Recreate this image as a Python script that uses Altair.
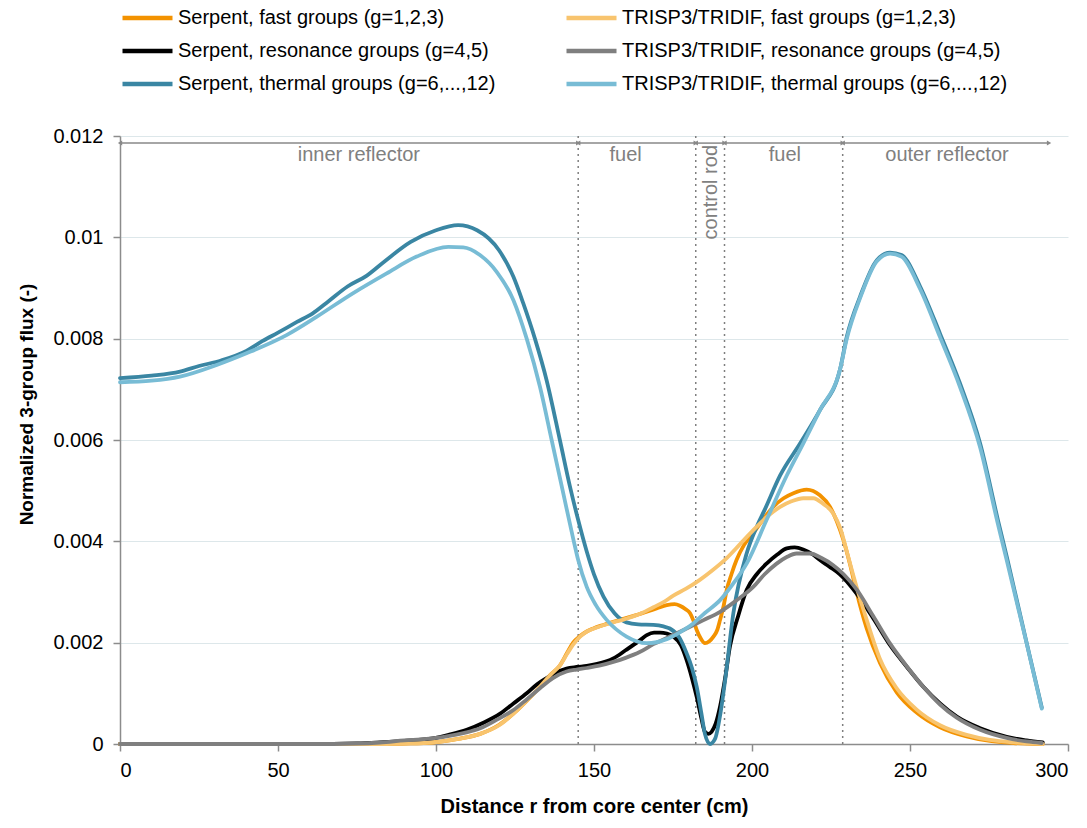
import altair as alt
import pandas as pd

# ---------------- data ----------------
SERIES = [
    "Serpent, fast groups (g=1,2,3)",
    "Serpent, resonance groups (g=4,5)",
    "Serpent, thermal groups (g=6,...,12)",
    "TRISP3/TRIDIF, fast groups (g=1,2,3)",
    "TRISP3/TRIDIF, resonance groups (g=4,5)",
    "TRISP3/TRIDIF, thermal groups (g=6,...,12)",
]
COLORS = ["#F39200", "#000000", "#3A86A3", "#F8C46E", "#7F7F7F", "#78BCD5"]

r_sf = [0, 80, 90, 99, 107, 114, 120, 124.5, 129, 132.9, 136, 139.2, 141.5, 143.4, 145.6, 147.7, 149.8, 153,
        158.2, 162, 166.7, 170, 173, 175.5, 177.2, 179, 180.4, 181.5, 182.5, 183.8, 185.1, 186.5, 187.8, 189,
        189.9, 191, 192, 193.5, 195.1, 197.5, 200.4, 203.5, 206.7, 210, 213.1, 217.3, 221.5, 224.7, 226.8,
        228.9, 231, 233.1, 236.3, 240.5, 245.8, 252.1, 259.5, 267.9, 275.3, 282.7, 292]
v_sf = [0, 0, 0.00001, 0.00003, 0.0001, 0.0002, 0.00038, 0.0006, 0.00087, 0.00113, 0.00135, 0.00155, 0.0018,
        0.002, 0.00213, 0.00222, 0.00228, 0.00235, 0.00245, 0.00252, 0.00261, 0.00268, 0.00274, 0.00276,
        0.00273, 0.00266, 0.00258, 0.00243, 0.00225, 0.00208, 0.00199, 0.00203, 0.00212, 0.00225, 0.00245,
        0.00272, 0.00304, 0.00335, 0.00363, 0.00393, 0.00416, 0.00443, 0.00468, 0.00485, 0.00495, 0.00502,
        0.00491, 0.00468, 0.0044, 0.00403, 0.00355, 0.003, 0.00228, 0.0016, 0.00102, 0.00062, 0.00033,
        0.00015, 0.00006, 0.00002, 0]

r_tf = [0, 80, 90, 99, 107, 114, 120, 124.5, 129, 132.9, 136, 139.2, 141.5, 143.4, 145.6, 147.7, 150, 156.1,
        160, 164.6, 168.8, 172, 175.1, 179, 183.5, 187.5, 192, 196, 200.4, 204.5, 208.9, 212.5, 216.2, 219.4,
        222.5, 225.7, 228, 230, 233.1, 236.3, 240.5, 245.8, 252.1, 259.5, 267.9, 275.3, 282.7, 292]
v_tf = [0, 0, 0.00001, 0.00003, 0.0001, 0.0002, 0.00037, 0.0006, 0.00087, 0.00113, 0.00135, 0.00155, 0.00178,
        0.00196, 0.00212, 0.00222, 0.00228, 0.0024, 0.00247, 0.00257, 0.0027, 0.0028, 0.00293, 0.00306,
        0.00324, 0.00343, 0.00367, 0.00393, 0.00422, 0.00447, 0.00468, 0.00479, 0.00485, 0.00485, 0.00474,
        0.00455, 0.00425, 0.0038, 0.0031, 0.00245, 0.00168, 0.0011, 0.00068, 0.00037, 0.00018, 0.00008,
        0.00003, 0]

r_sr = [0, 60, 75, 82.3, 90, 99, 104, 109.7, 115, 120.3, 124.5, 128.7, 132, 135, 138, 141.3, 144.5, 147.7, 151,
        156.1, 160, 164.6, 166.7, 169, 170.9, 173, 175.1, 177.5, 179.3, 181, 182.5, 184, 185.1, 186.2, 187.2,
        188.5, 189.9, 191.5, 193, 195.5, 198.3, 201.5, 204.6, 208, 211, 213.5, 216.2, 219, 221.5, 224.5,
        227.8, 233.1, 238.4, 243.7, 248.9, 254.2, 259.5, 264.8, 272.2, 280.6, 286.9, 292]
v_sr = [0, 0, 0.00001, 0.00003, 0.00006, 0.00011, 0.00018, 0.00028, 0.00042, 0.0006, 0.0008, 0.001, 0.00118,
        0.0013, 0.00141, 0.00149, 0.00152, 0.00154, 0.00158, 0.00169, 0.00185, 0.00205, 0.00215, 0.0022,
        0.0022, 0.00218, 0.00212, 0.00195, 0.00166, 0.0013, 0.00093, 0.0005, 0.00024, 0.0002, 0.00024,
        0.0004, 0.00074, 0.0013, 0.00192, 0.0025, 0.00304, 0.00335, 0.00356, 0.00374, 0.00386, 0.00388,
        0.00384, 0.00375, 0.00363, 0.0035, 0.00335, 0.00297, 0.00248, 0.00195, 0.00153, 0.00113, 0.0008,
        0.00054, 0.00031, 0.00014, 0.00007, 0.00003]

r_tr = [0, 60, 75, 82.3, 90, 97, 103.4, 109, 114, 119, 124.5, 128.7, 132.9, 137, 141.3, 144.5, 147.7, 152,
        156.1, 160, 164.6, 168.8, 174, 179.3, 184.5, 189.9, 195, 200.4, 204, 207.8, 211, 214.1, 218.4, 222,
        225.7, 229, 233.1, 238.4, 243.7, 248.9, 254.2, 259.5, 264.8, 272.2, 280.6, 286.9, 291.7]
v_tr = [0, 0, 0.00001, 0.00003, 0.00007, 0.0001, 0.00015, 0.00022, 0.00031, 0.00047, 0.00067, 0.00088, 0.0011,
        0.0013, 0.00143, 0.00147, 0.0015, 0.00155, 0.00162, 0.0017, 0.00182, 0.00197, 0.00212, 0.00228,
        0.00244, 0.00261, 0.00283, 0.0031, 0.00335, 0.00356, 0.00369, 0.00376, 0.00376, 0.00367, 0.00353,
        0.00335, 0.00305, 0.00252, 0.00198, 0.00154, 0.00113, 0.00078, 0.00052, 0.00028, 0.00012, 0.00005,
        0.00002]

r_st = [0, 10, 19, 25, 32, 40, 45, 50, 56, 61, 66, 72, 78, 84, 92, 100, 107, 113, 120, 124.5, 127.6, 131.3,
        135, 139.2, 142.4, 145, 147.7, 150, 153, 156.5, 160.3, 164, 168.8, 172, 174, 177, 179.3, 181, 182.5,
        184, 185.1, 186.7, 188.3, 190, 191.5, 194.1, 198.3, 201.5, 204, 208.9, 215.2, 221.5, 227.8, 230,
        234.2, 239.5, 243.7, 247.3, 253.2, 259.5, 265.8, 272.2, 277.9, 280.6, 286.9, 291.7]
v_st = [0.00722, 0.00727, 0.00735, 0.00746, 0.00757, 0.00776, 0.00795, 0.00812, 0.00833, 0.0085, 0.00874,
        0.00903, 0.00924, 0.00954, 0.00991, 0.01014, 0.01024, 0.01014, 0.00974, 0.00922, 0.0087, 0.008,
        0.00718, 0.006, 0.00508, 0.00442, 0.0038, 0.00335, 0.00291, 0.00258, 0.0024, 0.00236, 0.00235,
        0.00232, 0.00228, 0.0021, 0.00179, 0.0015, 0.00113, 0.0006, 0.0002, 0.0, 0.0001, 0.0006, 0.00126,
        0.00258, 0.00376, 0.00429, 0.00462, 0.0053, 0.00593, 0.00659, 0.00738, 0.00804, 0.00883, 0.00955,
        0.0097, 0.00965, 0.00903, 0.0081, 0.00712, 0.00593, 0.0044, 0.0037, 0.002, 0.00072]

r_tt = [0, 10, 19, 30.6, 40, 52.7, 62.2, 73.8, 84.4, 93.9, 103.9, 108.6, 113.9, 119.2, 124.5, 128.7, 132.9,
        136.6, 140.3, 143.5, 145, 147.7, 150.5, 154, 160.3, 166.7, 173, 177, 181.4, 185, 189.9, 194, 198.3,
        204.6, 211, 216.2, 221.5, 227.8, 230, 234.2, 239.5, 243.7, 247.3, 253.2, 259.5, 265.8, 272.2, 277.9,
        280.6, 286.9, 291.7]
v_tt = [0.00714, 0.00717, 0.00725, 0.00748, 0.00771, 0.00807, 0.00843, 0.0089, 0.00929, 0.00962, 0.00981,
        0.0098, 0.00965, 0.00932, 0.00876, 0.008, 0.00705, 0.006, 0.00494, 0.00403, 0.00363, 0.0031,
        0.00275, 0.00245, 0.00212, 0.00199, 0.00207, 0.0022, 0.00238, 0.00258, 0.00284, 0.00316, 0.00356,
        0.00442, 0.0053, 0.00593, 0.00659, 0.00738, 0.008, 0.0088, 0.00953, 0.00968, 0.00962, 0.00898,
        0.00803, 0.00705, 0.00585, 0.00432, 0.00363, 0.00199, 0.0007]

# region annotations
boundaries = [145, 182.2, 191.3, 228.7]
region_start = [0, 145, 182.2, 191.3, 228.7]
region_end = [145, 182.2, 191.3, 228.7, 294]
region_labels = ["inner reflector", "fuel", "", "fuel", "outer reflector"]
region_label_x = [75.6, 160, 187, 210.4, 261.7]
arrow_y = 0.01186
label_y = 0.01162
rod_label = "control rod"
rod_label_x = 187
rod_label_y = 0.01089

FONT = "Liberation Sans, Arial, sans-serif"
FS = 20

# ---------------- frames ----------------
curves = {SERIES[0]: (r_sf, v_sf), SERIES[1]: (r_sr, v_sr), SERIES[2]: (r_st, v_st),
          SERIES[3]: (r_tf, v_tf), SERIES[4]: (r_tr, v_tr), SERIES[5]: (r_tt, v_tt)}
rows = []
for name, (rr, vv) in curves.items():
    for a, b in zip(rr, vv):
        rows.append({"r": a, "v": b, "series": name})
df = pd.DataFrame(rows)

regions = pd.DataFrame({"x1": region_start, "x2": region_end, "y": [arrow_y] * 5})
heads = pd.DataFrame({
    "x": region_start + region_end,
    "y": [arrow_y] * 10,
    "shape": ["triangle-left"] * 5 + ["triangle-right"] * 5,
})
labels = pd.DataFrame({"x": region_label_x, "y": [label_y] * 5, "t": region_labels})
rod = pd.DataFrame({"x": [rod_label_x], "y": [rod_label_y], "t": [rod_label]})
bounds = pd.DataFrame({"x": boundaries})

xscale = alt.Scale(domain=[0, 300], nice=False)
yscale = alt.Scale(domain=[0, 0.012], nice=False)

color = alt.Color(
    "series:N",
    scale=alt.Scale(domain=SERIES, range=COLORS),
    sort=SERIES,
    legend=alt.Legend(
        title=None, orient="none", legendX=0, legendY=-131, columns=2, direction="vertical",
        symbolType="stroke", symbolSize=2500, symbolStrokeWidth=4.5, labelFont=FONT,
        labelFontSize=FS, labelColor="#000000", labelOffset=3, rowPadding=7, columnPadding=68,
        labelLimit=600, clipHeight=26,
    ),
)

x_enc = alt.X(
    "r:Q", scale=xscale,
    axis=alt.Axis(values=[0, 50, 100, 150, 200, 250, 300], title="Distance r from core center (cm)",
                  grid=False, labelPadding=9, titlePadding=16),
)
y_enc = alt.Y(
    "v:Q", scale=yscale,
    axis=alt.Axis(values=[0, 0.002, 0.004, 0.006, 0.008, 0.01, 0.012], format="~g",
                  title="Normalized 3-group flux (-)", grid=True, labelPadding=10, titlePadding=16,
                  titleFontSize=19, titleY=268),
)

line_layers = []
for name in [SERIES[0], SERIES[1], SERIES[2], SERIES[3], SERIES[4], SERIES[5]]:
    line_layers.append(
        alt.Chart(df).transform_filter(alt.datum.series == name)
        .mark_line(strokeWidth=3.8, interpolate="monotone", strokeJoin="round", strokeCap="round")
        .encode(x=x_enc, y=y_enc, color=color, order="r:Q")
    )

vlines = alt.Chart(bounds).mark_rule(color="#7f7f7f", strokeWidth=1.5, strokeDash=[2, 4]).encode(
    x=alt.X("x:Q", scale=xscale))

arrows = alt.Chart(regions).mark_rule(color="#888888", strokeWidth=1.5).encode(
    x=alt.X("x1:Q", scale=xscale), x2="x2:Q", y=alt.Y("y:Q", scale=yscale))

arrowheads = alt.Chart(heads).mark_point(filled=True, color="#888888", size=25, opacity=1).encode(
    x=alt.X("x:Q", scale=xscale), y=alt.Y("y:Q", scale=yscale),
    shape=alt.Shape("shape:N", scale=None))

region_text = alt.Chart(labels).mark_text(font=FONT, fontSize=FS, color="#808080", baseline="middle").encode(
    x=alt.X("x:Q", scale=xscale), y=alt.Y("y:Q", scale=yscale), text="t:N")

rod_text = alt.Chart(rod).mark_text(font=FONT, fontSize=FS, color="#808080", angle=270,
                                    baseline="middle", align="center").encode(
    x=alt.X("x:Q", scale=xscale), y=alt.Y("y:Q", scale=yscale), text="t:N")

chart = alt.layer(vlines, arrows, arrowheads, region_text, rod_text, *line_layers).properties(
    width=948, height=608,
    autosize=alt.AutoSizeParams(type="none"),
    padding={"left": 120, "top": 136, "right": 19, "bottom": 84},
).configure_view(stroke=None).configure_axis(
    labelFont=FONT, labelFontSize=FS, labelColor="#000000",
    titleFont=FONT, titleFontSize=FS, titleFontWeight="bold", titleColor="#000000",
    domainColor="#8c8c8c", domainWidth=1.5, tickColor="#8c8c8c", tickSize=7, tickWidth=1.5,
    gridColor="#dde7ea", gridWidth=1,
)

chart.save("out.html", embed_options={"renderer": "svg", "actions": False})
